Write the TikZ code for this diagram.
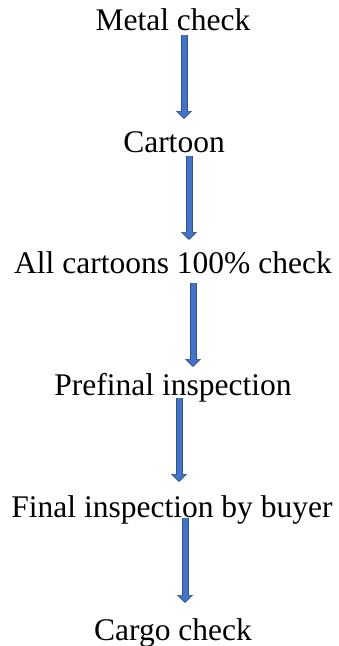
\documentclass[tikz,border=0pt]{standalone}
\usepackage{fontspec}
\setmainfont{Liberation Serif}
\usepackage{tikz}
\usetikzlibrary{arrows.meta}

\definecolor{flowfill}{HTML}{4472C4}
\definecolor{flowline}{HTML}{2F528F}

\begin{document}
\begin{tikzpicture}[
    x=1pt, y=-1pt,
    stage/.style={anchor=base, inner sep=0pt, font=\fontsize{31.5}{36}\selectfont},
    flow/.style={line width=5pt, flowfill, -{Triangle[width=13pt,length=6.5pt]}, shorten >=1.2pt,
        preaction={draw=flowline, line width=7pt, -{Triangle[width=16pt,length=8pt]}, shorten >=0pt}}
]
\useasboundingbox (0,0) rectangle (339,646);

\node[stage] (metal) at (173,30.7) {Metal check};
\node[stage] (carton) at (174,152) {Cartoon};
\node[stage] (allcheck) at (173,273) {All cartoons 100\% check};
\node[stage] (prefinal) at (173,395) {Prefinal inspection};
\node[stage] (final) at (172,517) {Final inspection by buyer};
\node[stage] (cargo) at (173,640) {Cargo check};

\draw[flow] ([xshift=11pt,yshift=-4pt]metal.base) -- ([xshift=10pt,yshift=33pt]carton.base);
\draw[flow] ([xshift=15pt,yshift=-4pt]carton.base) -- ([xshift=16pt,yshift=33pt]allcheck.base);
\draw[flow] ([xshift=20pt,yshift=-10pt]allcheck.base) -- ([xshift=20pt,yshift=28pt]prefinal.base);
\draw[flow] ([xshift=6pt,yshift=-3pt]prefinal.base) -- ([xshift=7pt,yshift=35pt]final.base);
\draw[flow] ([xshift=13pt,yshift=-1pt]final.base) -- ([xshift=12pt,yshift=37pt]cargo.base);
\end{tikzpicture}
\end{document}
